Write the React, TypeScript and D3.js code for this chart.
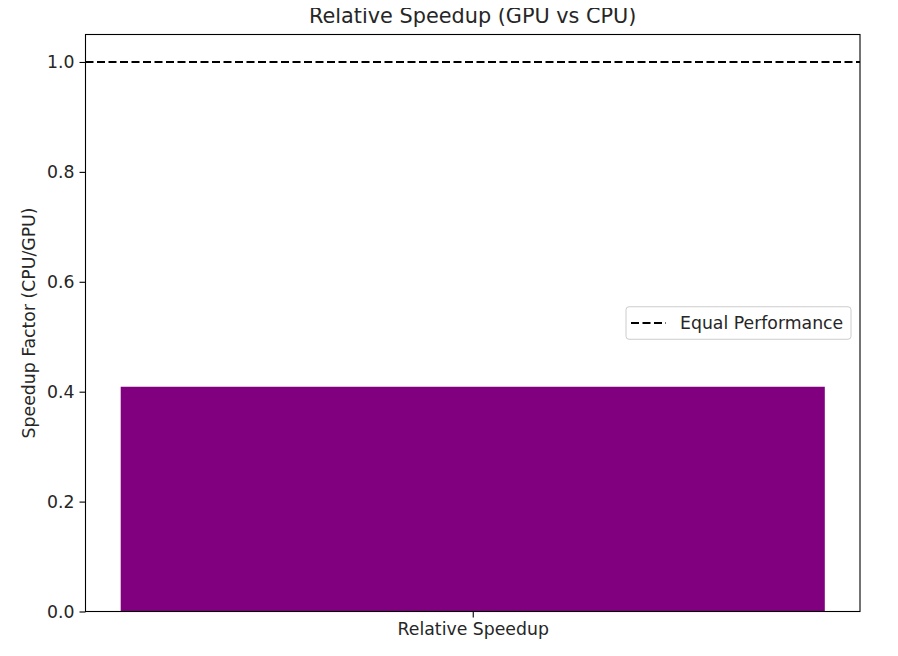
import React, { useRef, useEffect } from 'react';
import * as d3 from 'd3';

const categories = ['Relative Speedup'];
const speedupValues = [0.409];
const referenceLevel = 1.0;
const yTicks = [0.0, 0.2, 0.4, 0.6, 0.8, 1.0];

const App: React.FC = () => {
  const svgRef = useRef<SVGSVGElement>(null);
  const width = 898;
  const height = 656;
  const margin = { top: 34.5, right: 38, bottom: 44.5, left: 85.5 };

  useEffect(() => {
    if (!svgRef.current) return;
    const svg = d3.select(svgRef.current);
    svg.selectAll('*').remove();

    const innerWidth = width - margin.left - margin.right;
    const innerHeight = height - margin.top - margin.bottom;
    const font = 'DejaVu Sans, sans-serif';
    const textColor = '#262626';
    const labelSize = '17.3px';

    const g = svg.append('g').attr('transform', `translate(${margin.left},${margin.top})`);

    // matplotlib-style x: bar centred at 0, width 0.8, 5% margins
    const x = d3.scaleLinear().domain([-0.44, 0.44]).range([0, innerWidth]);
    const y = d3.scaleLinear().domain([0, 1.05]).range([innerHeight, 0]);

    // Bars
    categories.forEach((c, i) => {
      g.append('rect')
        .attr('x', x(i - 0.4))
        .attr('y', y(speedupValues[i]))
        .attr('width', x(i + 0.4) - x(i - 0.4))
        .attr('height', y(0) - y(speedupValues[i]))
        .attr('fill', 'purple');
    });

    // Reference line
    g.append('line')
      .attr('x1', 0)
      .attr('x2', innerWidth)
      .attr('y1', y(referenceLevel))
      .attr('y2', y(referenceLevel))
      .attr('stroke', 'black')
      .attr('stroke-width', 2.2)
      .attr('stroke-dasharray', '8,3.5');

    // Frame
    g.append('rect')
      .attr('width', innerWidth)
      .attr('height', innerHeight)
      .attr('fill', 'none')
      .attr('stroke', 'black')
      .attr('stroke-width', 1.1);

    // Y axis
    const yAxis = g.append('g')
      .call(d3.axisLeft(y).tickValues(yTicks).tickFormat(d3.format('.1f')).tickSize(6).tickPadding(5));
    yAxis.select('.domain').remove();
    yAxis.selectAll('line').attr('stroke-width', 1.1);
    yAxis.selectAll('text').attr('font-family', font).attr('font-size', labelSize).attr('fill', textColor);

    // X axis
    const xAxis = g.append('g')
      .attr('transform', `translate(0,${innerHeight})`)
      .call(d3.axisBottom(x).tickValues(categories.map((_, i) => i)).tickFormat((_, i) => categories[i]).tickSize(6).tickPadding(5));
    xAxis.select('.domain').remove();
    xAxis.selectAll('line').attr('stroke-width', 1.1);
    xAxis.selectAll('text').attr('font-family', font).attr('font-size', labelSize).attr('fill', textColor);

    // Title
    svg.append('text')
      .attr('x', margin.left + innerWidth / 2)
      .attr('y', 23)
      .attr('text-anchor', 'middle')
      .attr('font-family', font)
      .attr('font-size', '20.8px')
      .attr('fill', textColor)
      .text('Relative Speedup (GPU vs CPU)');

    // Y label
    svg.append('text')
      .attr('transform', `translate(35,${margin.top + innerHeight / 2}) rotate(-90)`)
      .attr('text-anchor', 'middle')
      .attr('font-family', font)
      .attr('font-size', labelSize)
      .attr('fill', textColor)
      .text('Speedup Factor (CPU/GPU)');

    // Legend (center right)
    const lw = 225;
    const lh = 32.5;
    const lx = innerWidth - 9 - lw;
    const ly = innerHeight / 2 - lh / 2;
    const legend = g.append('g').attr('transform', `translate(${lx},${ly})`);
    legend.append('rect')
      .attr('width', lw)
      .attr('height', lh)
      .attr('rx', 3)
      .attr('fill', 'white')
      .attr('fill-opacity', 0.8)
      .attr('stroke', '#cccccc');
    legend.append('line')
      .attr('x1', 5)
      .attr('x2', 40)
      .attr('y1', lh / 2)
      .attr('y2', lh / 2)
      .attr('stroke', 'black')
      .attr('stroke-width', 2.2)
      .attr('stroke-dasharray', '8,3.5');
    legend.append('text')
      .attr('x', 54)
      .attr('y', lh / 2 + 6)
      .attr('font-family', font)
      .attr('font-size', labelSize)
      .attr('fill', textColor)
      .text('Equal Performance');
  }, []);

  return (
    <div style={{ margin: '-8px' }}>
      <svg ref={svgRef} width={width} height={height} style={{ display: 'block', background: 'white' }} />
    </div>
  );
};

export default App;
